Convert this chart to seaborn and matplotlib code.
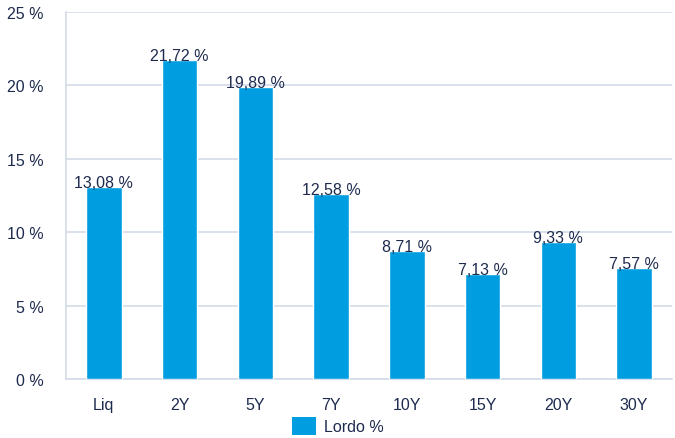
import matplotlib
matplotlib.use("Agg")
import matplotlib.pyplot as plt
import seaborn as sns
import pandas as pd
from matplotlib.patches import Patch

# Data
categories = ["Liq", "2Y", "5Y", "7Y", "10Y", "15Y", "20Y", "30Y"]
lordo = [13.08, 21.72, 19.89, 12.58, 8.71, 7.13, 9.33, 7.57]
series_name = "Lordo %"

bar_color = "#009EE0"
text_color = "#1E2B4F"
grid_color = "#D3DCE8"

df = pd.DataFrame({"Scadenza": categories, "Lordo": lordo})

sns.set_style("white")
plt.rcParams["font.family"] = ["Liberation Sans", "DejaVu Sans"]

fig = plt.figure(figsize=(6.75, 4.39), dpi=100)
ax = fig.add_axes([0.0978, 0.1344, 0.8978, 0.836])

sns.barplot(data=df, x="Scadenza", y="Lordo", color=bar_color,
            saturation=1, width=0.47, ax=ax, zorder=3)

ax.set_ylim(0, 25)
ax.set_xlim(-0.5, len(categories) - 0.5)
ax.set_yticks(range(0, 26, 5))
ax.set_yticklabels([f"{v} %" for v in range(0, 26, 5)])
ax.yaxis.grid(True, color=grid_color, linewidth=1.2, zorder=0)
ax.set_xlabel("")
ax.set_ylabel("")

# ticks between categories
ax.set_xticks([i - 0.5 for i in range(len(categories) + 1)], minor=False)
ax.set_xticklabels([])
ax.set_xticks(range(len(categories)), minor=True)
ax.set_xticklabels(categories, minor=True)
ax.tick_params(axis="x", which="major", length=14, width=1.2, color=grid_color,
               direction="out")
ax.tick_params(axis="x", which="minor", length=0, pad=13, labelsize=11.5,
               labelcolor=text_color)
ax.tick_params(axis="y", length=0, pad=16, labelsize=11.5, labelcolor=text_color)

for side in ["top", "right"]:
    ax.spines[side].set_visible(False)
ax.spines["left"].set_color(grid_color)
ax.spines["left"].set_linewidth(1.2)
ax.spines["bottom"].set_color(grid_color)
ax.spines["bottom"].set_linewidth(1.2)

for i, v in enumerate(lordo):
    ax.annotate(f"{v:.2f} %".replace(".", ","), (i, v), xytext=(0, -2),
                textcoords="offset points", ha="center", va="bottom",
                fontsize=11.5, color=text_color, zorder=4)

handles = [Patch(facecolor=bar_color, edgecolor="none", label=series_name)]
fig.legend(handles=handles, loc="center", bbox_to_anchor=(0.5, 0.027),
           frameon=False, fontsize=11.5, labelcolor=text_color,
           handlelength=1.5, handleheight=1.4, handletextpad=0.5)

fig.savefig("out.png", dpi=100)
